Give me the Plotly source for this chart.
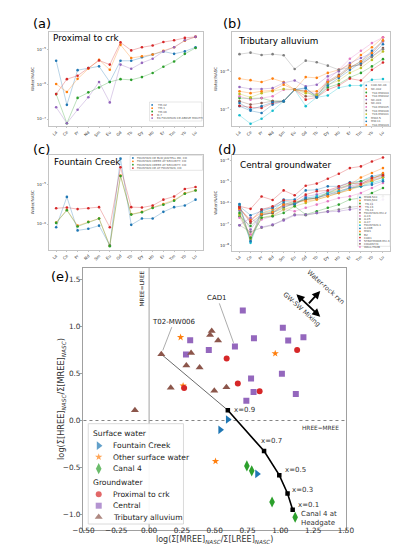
import plotly.graph_objects as go

W, H = 399, 550
FONT = "DejaVu Sans"

elements = ["La", "Ce", "Pr", "Nd", "Sm", "Eu", "Gd", "Tb", "Dy", "Ho", "Er", "Tm", "Yb", "Lu"]
tab10 = ["#1f77b4", "#ff7f0e", "#2ca02c", "#d62728", "#9467bd",
         "#8c564b", "#e377c2", "#7f7f7f", "#bcbd22", "#17becf"]

# ---------------- (a) Proximal to crk : log10(Water/NASC) ----------------
a_labels = ["TM-02", "TM-1", "TM-06", "D-7", "EA FOUNTAIN CR ABOVE MOUTH"]
a_1 = [-5.32, -6.59, -5.59, -5.53, -5.48, -5.93, -5.32, -5.32, -5.22, -5.14, -5.05, -5.12, -5.05, -4.93]
a_2 = [-5.99, -6.22, -5.84, -5.55, -5.29, -5.58, -4.86, -5.24, -5.19, -5.14, -5.03, -4.93, -4.74, -4.63]
a_3 = [-6.28, -7.12, -6.39, -6.23, -6.09, -5.93, -5.85, -5.87, -5.79, -5.67, -5.49, -5.34, -5.12, -4.95]
a_4 = [-6.28, -5.85, -5.75, -5.53, -5.31, -5.43, -4.79, -5.02, -4.93, -4.88, -4.78, -4.73, -4.66, -4.63]
a_5 = [-6.66, -7.12, -6.73, -6.37, -5.93, -6.52, -5.43, -5.55, -5.38, -5.26, -5.05, -4.93, -4.73, -4.63]

# ---------------- (b) Tributary alluvium ----------------
b_labels = ["CAD-NC-06", "NC-002", "T02-MW004", "T02-MW002", "NC-003", "NC-001",
            "T02-MW005", "T02-MW006", "T03-MW001", "MW2-S", "MW-11", "T02-MW003"]
b_1 = [-6.91, -7.03, -7.09, -6.87, -6.78, -6.48, -6.45, -6.65, -6.30, -6.13, -5.90, -5.74, -5.46, -5.20]
b_2 = [-6.19, -6.23, -6.28, -6.19, -6.28, -6.48, -6.15, -6.17, -6.04, -5.96, -5.83, -5.57, -5.37, -5.11]
b_3 = [-6.70, -6.71, -6.70, -6.78, -6.78, -6.48, -6.52, -6.68, -6.42, -6.33, -6.16, -6.04, -5.87, -5.68]
b_4 = [-6.90, -6.94, -6.96, -6.83, -6.78, -6.48, -6.74, -6.68, -6.48, -6.37, -6.19, -6.24, -5.96, -5.77]
b_5 = [-6.41, -6.46, -6.46, -6.44, -6.30, -6.24, -6.39, -6.35, -6.13, -6.00, -5.78, -5.65, -5.52, -5.22]
b_6 = [-6.78, -6.87, -6.83, -6.78, -6.78, -6.48, -6.65, -6.65, -6.26, -6.09, -5.87, -5.83, -5.61, -5.39]
b_7 = [-6.65, -6.74, -6.70, -6.65, -6.48, -6.48, -6.52, -6.59, -6.22, -5.96, -5.67, -5.46, -5.26, -5.11]
b_8 = [-5.55, -5.51, -5.57, -5.55, -5.58, -5.94, -5.72, -5.76, -5.85, -5.96, -5.90, -5.80, -5.62, -5.42]
b_9 = [-6.59, -6.68, -6.57, -6.52, -6.46, -6.48, -6.57, -6.61, -6.35, -6.24, -6.04, -5.91, -5.70, -5.48]
b_10 = [-7.15, -7.37, -7.24, -7.03, -6.78, -6.48, -6.91, -6.68, -6.63, -6.43, -6.37, -6.37, -6.22, -6.20]
b_11 = [-6.83, -7.00, -6.91, -6.81, -6.78, -6.48, -6.43, -6.68, -6.37, -6.17, -5.96, -5.78, -5.57, -5.29]
b_12 = [-6.52, -6.57, -6.52, -6.50, -6.35, -6.48, -6.52, -6.52, -6.28, -6.13, -5.91, -5.74, -5.52, -5.19]

# ---------------- (c) Fountain Creek ----------------
c_labels = ["FOUNTAIN CR BLW JANITELL RD, CO",
            "FOUNTAIN CREEK AT SECURITY, CO",
            "FOUNTAIN CREEK AT SECURITY, CO",
            "FOUNTAIN CR AT FOUNTAIN, CO"]
c_1 = [-6.08, -5.31, -6.16, -6.12, -6.04, -6.54, -4.34, -6.02, -5.86, -5.86, -5.69, -5.57, -5.53, -5.38]
c_2 = [-5.96, -5.64, -6.04, -5.94, -5.86, -6.55, -4.77, -5.75, -5.69, -5.58, -5.49, -5.39, -5.22, -5.14]
c_3 = [-5.97, -5.65, -6.06, -5.95, -5.86, -6.56, -4.78, -5.76, -5.70, -5.59, -5.51, -5.41, -5.23, -5.15]
c_4 = [-5.60, -5.58, -5.62, -5.60, -5.57, -6.08, -4.56, -5.57, -5.58, -5.53, -5.38, -5.30, -5.11, -5.06]

# ---------------- (d) Central groundwater ----------------
d_labels = ["MW8-S10", "MW6-S10", "TN-11", "TN-13", "TN-14", "FOUNTAIN-MU-2", "A-03", "A-05",
            "A-07", "FOUNTAIN-1", "A-06B", "MW1", "B2", "CAD1", "STRATMOOR-MU-3",
            "COLONY-N", "WALL-TN28"]
d_1 = [-6.16, -6.58, -6.39, -6.23, -5.84, -5.84, -5.41, -5.38, -5.22, -5.22, -5.03, -4.98, -4.75, -4.63]
d_2 = [-6.31, -6.78, -6.47, -6.31, -6.16, -6.00, -5.84, -5.77, -5.53, -5.38, -5.14, -4.80, -4.59, -4.36]
d_3 = [-6.63, -7.09, -6.58, -6.47, -6.23, -6.00, -5.84, -5.77, -5.53, -5.30, -5.14, -4.98, -4.83, -4.67]
d_4 = [-6.16, -6.28, -5.70, -5.86, -5.41, -5.64, -5.19, -5.09, -4.86, -4.63, -4.36, -4.28, -4.05, -3.86]
d_5 = [-6.36, -7.25, -6.55, -6.47, -6.16, -6.08, -5.69, -5.61, -5.45, -5.30, -5.22, -5.06, -4.91, -4.75]
d_6 = [-6.23, -6.94, -6.55, -6.47, -6.08, -6.05, -5.84, -5.77, -5.61, -5.45, -5.30, -5.14, -4.98, -4.80]
d_7 = [-6.70, -7.48, -6.78, -6.63, -6.31, -6.39, -6.23, -6.08, -5.92, -5.77, -5.69, -5.53, -5.30, -5.06]
d_8 = [-7.05, -7.36, -7.17, -7.05, -6.78, -6.55, -6.58, -6.47, -6.39, -6.31, -6.20, -6.16, -5.95, -5.69]
d_9 = [-6.55, -7.72, -6.70, -6.58, -6.31, -6.16, -6.00, -5.84, -5.69, -5.53, -5.38, -5.22, -4.98, -4.80]
d_10 = [-6.08, -7.88, -6.47, -6.39, -5.92, -6.00, -5.77, -5.69, -5.53, -5.45, -5.30, -5.22, -5.06, -4.91]
d_11 = [-6.05, -7.80, -6.31, -6.23, -6.00, -6.08, -5.77, -5.77, -5.61, -5.53, -5.30, -5.22, -5.14, -4.98]
d_12 = [-6.27, -7.64, -6.52, -6.42, -6.08, -5.92, -5.92, -5.84, -5.69, -5.53, -5.38, -5.14, -4.91, -4.59]
d_13 = [-6.47, -7.64, -6.70, -6.63, -6.47, -6.16, -6.55, -6.39, -6.23, -6.08, -5.84, -5.77, -5.53, -5.30]
d_14 = [-6.23, -6.86, -6.31, -6.16, -5.88, -5.92, -5.61, -5.45, -5.41, -5.22, -5.06, -5.11, -4.83, -4.70]
d_15 = [-7.05, -6.70, -7.14, -7.02, -6.83, -6.58, -6.55, -6.47, -6.42, -6.39, -6.31, -6.23, -6.08, -5.84]

# ---------------- (e) log(HREE/MREE) vs log(MREE/LREE) ----------------
fc_x = [0.600, 0.542, 0.823]
fc_y = [0.011, -0.099, -0.567]
osw_x = [0.240, 0.259, 0.961, 0.506]
osw_y = [0.884, 0.369, 0.712, -0.433]
canal_x = [0.745, 0.782, 0.937, 1.113]
canal_y = [-0.482, -0.535, -0.866, -1.028]
prox_x = [0.267, 0.591, 0.676, 0.842, 1.128]
prox_y = [0.345, 0.659, 0.394, 0.310, 0.750]
central_x = [0.714, 0.313, 0.455, 0.281, 0.654, 0.741, 1.019, 0.799, 1.060, 1.176, 1.012, 0.777, 0.796, 1.118]
central_y = [1.169, 0.852, 0.750, 0.701, 0.785, 0.211, 0.986, 0.873, 0.849, 0.884, 0.496, 0.447, 0.303, 0.282]
trib_x = [0.093, 0.477, 0.465, 0.526, 0.320, 0.284, 0.385, 0.165, 0.497, 0.589, -0.108]
trib_y = [0.704, 0.950, 0.908, 0.849, 0.718, 0.585, 0.563, 0.349, 0.317, 0.352, 0.109]
mix_frac = [0.9, 0.7, 0.5, 0.3, 0.1]
mix_x = [0.600, 0.876, 0.992, 1.055, 1.094]
mix_y = [0.109, -0.324, -0.581, -0.775, -0.947]

xtick_e = [-0.5, -0.25, 0.0, 0.25, 0.5, 0.75, 1.0, 1.25, 1.5]
ytick_e = [-1.0, -0.5, 0.0, 0.5, 1.0, 1.5]


def fx(px):
    return px / W


def fy(py):
    return 1 - py / H


def minus(s):
    return s.replace("-", "\u2212")


fig = go.Figure()

panels = [
    dict(key="", xpx=(31.7, 192.7), ypx=(24, 118), yr=(-7.2, -4.49), dec=[-7, -6, -5],
         series=[a_1, a_2, a_3, a_4, a_5], labels=a_labels,
         colors=[tab10[i] for i in range(5)]),
    dict(key="2", xpx=(224, 389.7), ypx=(24, 118), yr=(-7.43, -4.97), dec=[-7, -6],
         series=[b_1, b_2, b_3, b_4, b_5, b_6, b_7, b_8, b_9, b_10, b_11, b_12], labels=b_labels,
         colors=[tab10[i % 10] for i in range(12)]),
    dict(key="3", xpx=(31.7, 192.7), ypx=(146.7, 241.7), yr=(-6.65, -4.24), dec=[-6, -5],
         series=[c_1, c_2, c_3, c_4], labels=c_labels,
         colors=[tab10[i] for i in range(4)]),
    dict(key="4", xpx=(224, 389.7), ypx=(146.7, 242.7), yr=(-8.25, -3.73), dec=[-8, -7, -6, -5, -4],
         series=[d_1, d_2, d_3, d_4, d_5, d_6, d_7, d_8, d_9, d_10, d_11, d_12, d_13, d_14, d_15],
         labels=d_labels[:15],
         colors=[tab10[i % 10] for i in range(15)]),
]


def rgba(hexc, a):
    h = hexc.lstrip("#")
    return "rgba(%d,%d,%d,%.2f)" % (int(h[0:2], 16), int(h[2:4], 16), int(h[4:6], 16), a)


layout_axes = {}
for p in panels:
    k = p["key"]
    xa, ya = "x" + k, "y" + k
    for s, c in zip(p["series"], p["colors"]):
        fig.add_trace(go.Scatter(
            x=elements, y=[10 ** v for v in s], xaxis=xa, yaxis=ya, mode="lines+markers",
            line=dict(color=rgba(c, 0.45), width=0.7),
            marker=dict(color=c, size=2.6), showlegend=False, hoverinfo="skip"))
    layout_axes["xaxis" + k] = dict(
        domain=[fx(p["xpx"][0]), fx(p["xpx"][1])], anchor=ya,
        type="category", categoryorder="array", categoryarray=elements,
        range=[-0.65, 13.65], tickangle=-45, tickfont=dict(size=4, color="#333"),
        showline=True, mirror=True, linecolor="#c4c4c4", linewidth=0.8,
        ticks="outside", ticklen=1.5, tickcolor="#c4c4c4", showgrid=False, zeroline=False)
    layout_axes["yaxis" + k] = dict(
        domain=[fy(p["ypx"][1]), fy(p["ypx"][0])], anchor=xa, type="log",
        range=list(p["yr"]), tickvals=[10 ** d for d in p["dec"]],
        ticktext=["10<sup>\u2212%d</sup>" % (-d) for d in p["dec"]],
        tickfont=dict(size=4, color="#333"),
        title=dict(text="Water/NASC", font=dict(size=4, color="#333"), standoff=2),
        showline=True, mirror=True, linecolor="#c4c4c4", linewidth=0.8,
        ticks="outside", ticklen=1.5, tickcolor="#c4c4c4", showgrid=False, zeroline=False)

# ---------- panel (e) ----------
XE, YE = "x5", "y5"
fig.add_trace(go.Scatter(x=[trib_x[0], mix_x[0]], y=[trib_y[0], mix_y[0]], xaxis=XE, yaxis=YE,
                         mode="lines", line=dict(color="#444", width=0.8),
                         showlegend=False, hoverinfo="skip"))
fig.add_trace(go.Scatter(x=mix_x, y=mix_y, xaxis=XE, yaxis=YE, mode="lines+markers",
                         line=dict(color="black", width=1.6),
                         marker=dict(symbol="square", size=4.5, color="black"),
                         showlegend=False, hoverinfo="skip"))
groups = [
    ("Fountain Creek", fc_x, fc_y, "triangle-right", tab10[0], 7.5),
    ("Other surface water", osw_x, osw_y, "star", tab10[1], 5.5),
    ("Canal 4", canal_x, canal_y, "diamond-tall", tab10[2], 8),
    ("Proximal to crk", prox_x, prox_y, "circle", tab10[3], 6),
    ("Central", central_x, central_y, "square", tab10[4], 6),
    ("Tributary alluvium", trib_x, trib_y, "triangle-up", tab10[5], 7),
]
for name, xs, ys, sym, col, sz in groups:
    fig.add_trace(go.Scatter(x=xs, y=ys, xaxis=XE, yaxis=YE, mode="markers", name=name,
                             marker=dict(symbol=sym, size=sz, color=col, line=dict(width=0)),
                             showlegend=False))

layout_axes["xaxis5"] = dict(
    domain=[fx(67.7), fx(343.3)], anchor=YE, range=[-0.5, 1.5],
    tickvals=xtick_e, ticktext=[minus("%.2f" % v) for v in xtick_e],
    tickfont=dict(size=7.3, color="#333"), ticklabelstandoff=-9,
    showline=True, mirror=True, linecolor="#a0a0a0", linewidth=1,
    ticks="outside", ticklen=2.5, tickcolor="#a0a0a0", showgrid=False, zeroline=False)
layout_axes["yaxis5"] = dict(
    domain=[fy(521.7), fy(260)], anchor=XE, range=[-1.16, 1.62],
    tickvals=ytick_e, ticktext=[minus("%.1f" % v) for v in ytick_e],
    tickfont=dict(size=7.3, color="#333"), ticklabelstandoff=-2,
    showline=True, mirror=True, linecolor="#a0a0a0", linewidth=1,
    ticks="outside", ticklen=2.5, tickcolor="#a0a0a0", showgrid=False, zeroline=False)

# overlay axis in pixel units (for legend boxes)
layout_axes["xaxis6"] = dict(domain=[0, 1], range=[0, W], visible=False, anchor="y6", fixedrange=True)
layout_axes["yaxis6"] = dict(domain=[0, 1], range=[H, 0], visible=False, anchor="x6", fixedrange=True)

shapes = [
    dict(type="line", xref=XE, yref="y5 domain", x0=0, x1=0, y0=0, y1=1,
         line=dict(color="#999", width=0.9), layer="below"),
    dict(type="line", xref="x5 domain", yref=YE, x0=0, x1=1, y0=0, y1=0,
         line=dict(color="#777", width=0.9, dash="dot"), layer="below"),
]

annotations = []


def ann(text, x, y, size, xref="paper", yref="paper", **kw):
    d = dict(text=text, x=x, y=y, xref=xref, yref=yref, showarrow=False,
             font=dict(size=size, color=kw.pop("color", "#222"), family=FONT))
    d.update(kw)
    annotations.append(d)


# panel letters and titles
for lab, px, py in [("(a)", 13, 16), ("(b)", 212, 16), ("(c)", 13, 141.5), ("(d)", 207, 141), ("(e)", 31, 269)]:
    ann(lab, fx(px), fy(py), 13, xanchor="left", yanchor="middle", color="black")
for t, px, py in [("Proximal to crk", 34, 30.5), ("Tributary alluvium", 228.3, 33),
                  ("Fountain Creek", 35, 154), ("Central groundwater", 229.5, 157)]:
    ann(t, fx(px), fy(py), 8.8, xanchor="left", yanchor="middle", color="black")

# (e) axis titles
ann("log(\u03a3[MREE]<sub><i>NASC</i></sub>/\u03a3[LREE]<sub><i>NASC</i></sub>)", fx(205.5), fy(531.5), 8,
    xanchor="center", yanchor="middle", color="#333")
ann("log(\u03a3[HREE]<sub><i>NASC</i></sub>/\u03a3[MREE]<sub><i>NASC</i></sub>)", fx(44), fy(391), 8.2,
    xanchor="center", yanchor="middle", textangle=-90, color="#333")


def legend_box(x0, y0, x1, y1, lw=0.6, lc="#cccccc"):
    fig.add_trace(go.Scatter(x=[x0, x1, x1, x0, x0], y=[y0, y0, y1, y1, y0], xaxis="x6", yaxis="y6",
                             mode="lines", fill="toself", fillcolor="rgba(255,255,255,0.9)",
                             line=dict(color=lc, width=lw), showlegend=False, hoverinfo="skip"))


# small legends
small_leg = [
    ((137, 94, 192, 113), 96.9, 3.3, 139.8, 142.5, a_labels, panels[0]["colors"]),
    ((362.3, 74, 389.7, 118.3), 77.3, 3.6, 364.6, 367.0, b_labels, panels[1]["colors"]),
    ((116.7, 147.5, 192.7, 162.3), 150.0, 3.35, 119.6, 122.3, c_labels, panels[2]["colors"]),
    ((355.7, 186.7, 389.7, 238.3), 189.3, 3.1, 358.0, 360.5, d_labels,
     panels[3]["colors"] + [tab10[5], tab10[6]]),
]
for box, y0, dy, mx, tx, labs, cols in small_leg:
    legend_box(*box, lw=0.5)
    ys = [y0 + i * dy for i in range(len(labs))]
    fig.add_trace(go.Scatter(x=[mx] * len(labs), y=ys, xaxis="x6", yaxis="y6", mode="markers",
                             marker=dict(color=cols[:len(labs)], size=1.8),
                             showlegend=False, hoverinfo="skip"))
    for lab, yy in zip(labs, ys):
        ann(lab, tx, yy, 2.8, xref="x6", yref="y6", xanchor="left", yanchor="middle", color="#555")

# (e) legend
legend_box(72.7, 415.7, 172.7, 516, lw=0.8, lc="#d0d0d0")
leg_rows = [437.7, 449.0, 460.7, 486.3, 497.7, 509.0]
fig.add_trace(go.Scatter(x=[83.7] * 6, y=leg_rows, xaxis="x6", yaxis="y6", mode="markers",
                         marker=dict(symbol=[g[3] for g in groups], color=[g[4] for g in groups],
                                     size=[g[5] for g in groups], line=dict(width=0)),
                         showlegend=False, hoverinfo="skip"))
for g, yy in zip(groups, leg_rows):
    ann(g[0], 96.7, yy, 7.6, xref="x6", yref="y6", xanchor="left", yanchor="middle", color="#222")
ann("Surface water", 75.7, 425.0, 7.6, xref="x6", yref="y6", xanchor="left", yanchor="middle", color="#222")
ann("Groundwater", 75.7, 474.3, 7.6, xref="x6", yref="y6", xanchor="left", yanchor="middle", color="#222")

# (e) text labels for mixing fractions
mix_lab_x = [0.629, 0.84, 1.021, 1.077, 1.118]
mix_lab_y = [0.109, -0.218, -0.528, -0.736, -0.895]
for f, xx, yy in zip(mix_frac, mix_lab_x, mix_lab_y):
    ann("x=%.1f" % f, xx, yy, 7, xref=XE, yref=YE, xanchor="left", yanchor="middle", color="#333")
ann("Canal 4 at<br>Headgate", 1.145, -1.045, 7, xref=XE, yref=YE, xanchor="left", yanchor="middle",
    align="left", color="#333")
ann("HREE=MREE", 1.465, -0.075, 5.8, xref=XE, yref=YE, xanchor="right", yanchor="middle", color="#333")
ann("MREE=LREE", -0.055, 1.40, 5.8, xref=XE, yref=YE, xanchor="center", yanchor="middle",
    textangle=-90, color="#333")
ann("GW-SW Mixing", 1.159, 1.183, 6.5, xref=XE, yref=YE, textangle=42, color="#333")
ann("Water-rock rxn", 1.345, 1.419, 6.5, xref=XE, yref=YE, textangle=42, color="#333")

# leader lines for labelled samples
annotations.append(dict(text="CAD1", x=central_x[4], y=central_y[4], xref=XE, yref=YE,
                        ax=0.52, ay=1.303, axref=XE, ayref=YE, showarrow=True, arrowhead=0,
                        arrowwidth=0.7, arrowcolor="#888", standoff=4,
                        font=dict(size=7, color="#222", family=FONT)))
annotations.append(dict(text="T02-MW006", x=trib_x[0], y=trib_y[0], xref=XE, yref=YE,
                        ax=0.189, ay=1.05, axref=XE, ayref=YE, showarrow=True, arrowhead=0,
                        arrowwidth=0.7, arrowcolor="#888", standoff=4,
                        font=dict(size=7, color="#222", family=FONT)))
# direction arrows
annotations.append(dict(text="", x=1.304, y=1.102, xref=XE, yref=YE, ax=1.111, ay=1.356,
                        axref=XE, ayref=YE, showarrow=True, arrowhead=2, arrowside="end+start",
                        arrowwidth=1.8, arrowsize=0.9, arrowcolor="black"))
annotations.append(dict(text="", x=1.304, y=1.377, xref=XE, yref=YE, ax=1.207, ay=1.229,
                        axref=XE, ayref=YE, showarrow=True, arrowhead=2,
                        arrowwidth=1.8, arrowsize=0.9, arrowcolor="black"))

fig.update_layout(
    width=W, height=H, margin=dict(l=0, r=0, t=0, b=0),
    paper_bgcolor="white", plot_bgcolor="rgba(0,0,0,0)",
    font=dict(family=FONT, color="#333"), showlegend=False,
    shapes=shapes, annotations=annotations, **layout_axes)

fig.write_html("out.html")
